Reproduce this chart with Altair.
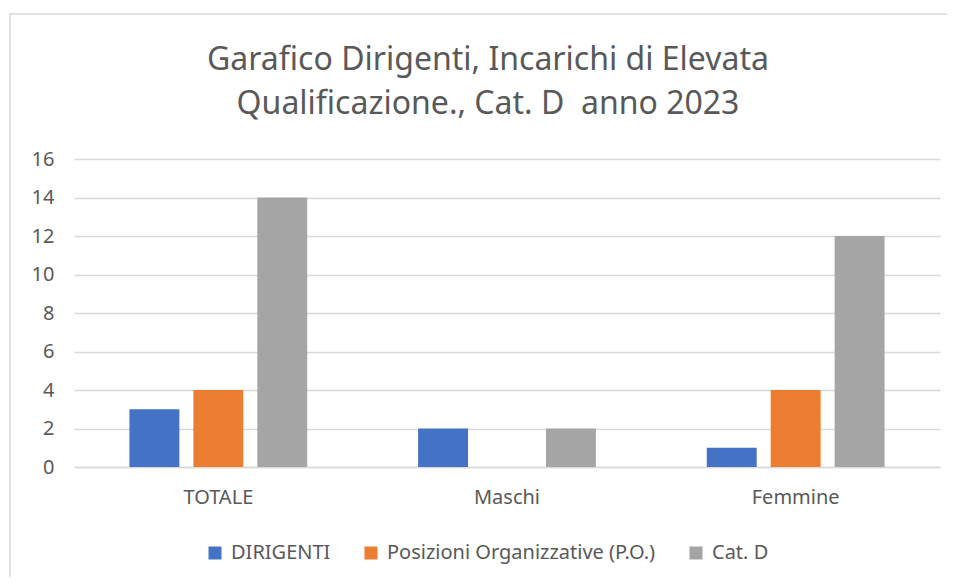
import altair as alt
import pandas as pd

categories = ["TOTALE", "Maschi", "Femmine"]
series = ["DIRIGENTI", "Posizioni Organizzative (P.O.)", "Cat. D"]
dirigenti = [3, 2, 1]
po = [4, 0, 4]
catd = [14, 2, 12]
colors = ["#4472C4", "#ED7D31", "#A5A5A5"]
y_ticks = [0, 2, 4, 6, 8, 10, 12, 14, 16]
title_lines = ["Garafico Dirigenti, Incarichi di Elevata", "Qualificazione., Cat. D\u00a0 anno 2023"]

rows = []
for i, c in enumerate(categories):
    for s, vals in zip(series, [dirigenti, po, catd]):
        rows.append({"categoria": c, "serie": s, "valore": vals[i]})
df = pd.DataFrame(rows)

FONT = "Noto Sans"
TXT = "#595959"
GRID = "#D9D9D9"

bars = alt.Chart(df).mark_bar().encode(
    x=alt.X("categoria:N", sort=categories, title=None,
            scale=alt.Scale(paddingInner=0, paddingOuter=0),
            axis=alt.Axis(labelAngle=0, ticks=False, domain=True, domainColor=GRID,
                          domainWidth=1.5, labelPadding=20, labelFontSize=20,
                          labelColor=TXT, labelFont=FONT, grid=False)),
    xOffset=alt.XOffset("serie:N", sort=series,
                        scale=alt.Scale(paddingInner=0.219, paddingOuter=0.867)),
    y=alt.Y("valore:Q", title=None,
            scale=alt.Scale(domain=[0, 16], nice=False),
            axis=alt.Axis(values=y_ticks, ticks=False, domain=False, grid=True,
                          gridColor=GRID, gridWidth=1.5, labelPadding=20,
                          labelFontSize=20, labelColor=TXT, labelFont=FONT)),
    color=alt.Color("serie:N", sort=series,
                    scale=alt.Scale(domain=series, range=colors),
                    legend=alt.Legend(title=None, orient="none", direction="horizontal",
                                      legendX=131, legendY=384,
                                      symbolType="square", symbolSize=169,
                                      symbolStrokeWidth=0, labelFontSize=20,
                                      labelColor=TXT, labelFont=FONT, labelOffset=6,
                                      columnPadding=30, labelLimit=400)),
)

frame = alt.Chart(pd.DataFrame({"a": [0]})).mark_rect(
    fill=None, stroke=GRID, strokeWidth=1.5
).encode(
    x=alt.value(-64), x2=alt.value(1200), y=alt.value(-145), y2=alt.value(900)
)

title1 = alt.Chart(pd.DataFrame({"t": [title_lines[0]]})).mark_text(
    font=FONT, fontSize=32, color=TXT, align="center", baseline="alphabetic"
).encode(text="t:N", x=alt.value(414), y=alt.value(-89))

title2 = alt.Chart(pd.DataFrame({"t": [title_lines[1]]})).mark_text(
    font=FONT, fontSize=32, color=TXT, align="center", baseline="alphabetic"
).encode(text="t:N", x=alt.value(414), y=alt.value(-45))

chart = alt.layer(frame, bars, title1, title2).properties(
    width=866, height=308,
    autosize=alt.AutoSizeParams(type="none"),
    padding={"left": 66, "top": 151, "right": 7, "bottom": 110},
).configure_view(stroke=None)

chart.save("out.html", embed_options={"renderer": "svg", "actions": False})
